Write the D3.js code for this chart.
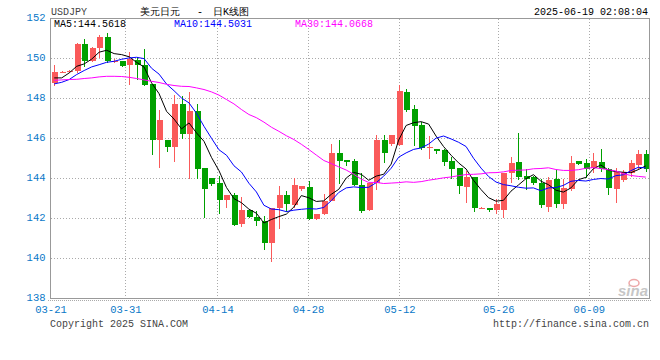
<!DOCTYPE html>
<html>
<head>
<meta charset="utf-8">
<script src="https://cdn.jsdelivr.net/npm/d3@7/dist/d3.min.js"></script>
<style>
  body { margin: 0; background: #fff; }
  text { font-family: "Liberation Mono", "DejaVu Sans Mono", monospace; font-size: 10px; }
</style>
</head>
<body>
<svg></svg>
<script>
// daily candles, oldest first
var opens = [148.78, 149.30, 149.31, 149.36, 150.72, 149.89, 150.53, 151.06, 149.86, 149.86,
  149.66, 149.94, 149.66, 148.73, 145.91, 145.94, 145.57, 147.73, 146.24, 147.40,
  144.51, 144.05, 143.76, 142.92, 143.20, 141.72, 142.45, 142.10, 141.89, 140.76,
  142.52, 143.17, 142.68, 143.50, 143.60, 142.00, 142.22, 142.88, 145.29, 144.93,
  144.88, 143.68, 142.42, 143.80, 145.92, 145.74, 145.67, 148.33, 147.50, 146.67,
  145.54, 145.46, 145.42, 144.88, 144.51, 143.60, 144.08, 142.50, 142.54, 142.45,
  142.42, 144.26, 144.84, 144.13, 144.10, 143.80, 142.60, 143.96, 142.72, 143.47,
  144.88, 144.80, 144.51, 144.84, 144.46, 143.47, 143.91, 144.30, 144.66, 145.24];
var highs = [149.69, 149.36, 149.42, 150.78, 150.99, 150.58, 151.16, 151.27, 150.00, 149.88,
  150.31, 150.06, 150.49, 148.73, 147.45, 145.94, 148.17, 148.12, 148.33, 147.73,
  144.51, 144.05, 144.13, 143.20, 143.30, 143.08, 142.45, 142.38, 142.14, 142.55,
  143.63, 143.38, 144.05, 143.63, 143.88, 142.25, 143.22, 145.74, 145.92, 144.93,
  144.96, 144.30, 143.80, 146.20, 146.17, 146.20, 148.70, 148.50, 147.67, 146.84,
  146.12, 145.49, 145.49, 145.08, 144.51, 144.38, 144.08, 142.56, 142.54, 142.97,
  144.30, 145.10, 146.29, 144.46, 144.13, 143.96, 144.10, 144.43, 143.96, 145.12,
  144.90, 144.96, 145.29, 145.49, 144.55, 144.55, 144.41, 144.91, 145.41, 145.41];
var lows = [148.61, 149.28, 149.29, 149.30, 149.56, 149.83, 150.03, 149.78, 149.80, 149.60,
  148.70, 148.95, 148.61, 145.18, 144.51, 145.31, 144.81, 145.96, 143.96, 143.96,
  142.02, 143.61, 142.22, 142.55, 141.64, 141.59, 142.05, 141.64, 140.43, 139.81,
  141.47, 142.35, 142.55, 143.38, 141.92, 141.92, 142.18, 142.88, 143.71, 144.63,
  143.63, 142.30, 142.39, 143.42, 144.80, 145.62, 145.62, 147.34, 145.62, 145.41,
  144.96, 145.21, 144.63, 143.96, 143.25, 142.77, 142.35, 142.50, 142.35, 142.22,
  142.05, 143.80, 143.93, 143.42, 143.70, 142.52, 142.35, 142.55, 142.50, 143.38,
  144.70, 144.01, 144.30, 144.33, 143.17, 142.77, 143.85, 144.08, 144.41, 144.35];
var closes = [149.33, 149.33, 149.38, 150.72, 149.89, 150.53, 151.06, 149.86, 149.88, 149.64,
  149.99, 149.66, 148.70, 145.91, 146.95, 145.57, 147.73, 146.24, 147.40, 144.46,
  143.47, 143.71, 142.92, 143.20, 141.67, 142.45, 142.10, 141.89, 140.76, 142.55,
  143.17, 142.72, 143.66, 143.63, 142.00, 142.25, 142.88, 145.29, 144.88, 144.83,
  143.66, 142.39, 143.80, 145.92, 145.29, 146.20, 148.40, 147.45, 146.62, 145.54,
  145.60, 145.38, 144.84, 144.46, 143.63, 144.08, 142.52, 142.54, 142.44, 142.75,
  144.30, 144.80, 144.10, 144.00, 143.76, 142.67, 143.93, 142.72, 143.52, 144.80,
  144.74, 144.50, 144.88, 144.46, 143.52, 144.35, 144.35, 144.76, 145.24, 144.46];

// moving averages at the left edge, where the earlier days are not shown
var ma5Head = [149.03, 149.03, 149.28, 149.61];
var ma10Head = [148.73, 148.81, 148.95, 149.20, 149.40, 149.58, 149.69, 149.81, 149.86];
var ma30Head = [148.91, 148.93, 148.95, 148.96, 149.00, 149.03, 149.08, 149.11, 149.11, 149.10,
  149.06, 149.00, 148.93, 148.86, 148.80, 148.71, 148.65, 148.61, 148.60, 148.53,
  148.45, 148.33, 148.17, 147.95, 147.73, 147.45, 147.20, 147.04, 146.82];

var yTicks = [138, 140, 142, 144, 146, 148, 150, 152];
var dateLabels = ['03-21', '03-31', '04-14', '04-28', '05-12', '05-26', '06-09'];
var dateIndex = [-0.5, 9.5, 21.8, 33.9, 46.1, 59.3, 71.4];

var legendText = ['MA5:144.5618', 'MA10:144.5031', 'MA30:144.0668'];

var width = 660;
var height = 360;
var plotLeft = 50.5, plotRight = 649.5, plotTop = 18.5, plotBottom = 298.5;

var svg = d3.select('svg');
svg.attr('width', width).attr('height', height);

var xScale = d3.scaleLinear()
               .domain([-0.5, closes.length - 0.5])
               .range([plotLeft, plotRight]);

var yScale = d3.scaleLinear()
               .domain([138, 152])
               .range([plotBottom, plotTop]);

var candles = closes.map(function(c, i) {
  return {i: i, o: opens[i], h: highs[i], l: lows[i], c: c};
});

function movingAverage(period, head) {
  return closes.map(function(c, i) {
    if (i < period - 1) return head[i];
    return d3.mean(closes.slice(i - period + 1, i + 1));
  });
}

// grid
svg.append('g')
  .selectAll('line')
  .data(yTicks.slice(1, -1))
  .enter()
  .append('line')
  .attr('x1', plotLeft).attr('x2', plotRight)
  .attr('y1', function(d) { return yScale(d); })
  .attr('y2', function(d) { return yScale(d); })
  .attr('stroke', '#aaa')
  .attr('stroke-dasharray', '1,2')
  .attr('shape-rendering', 'crispEdges');

svg.append('g')
  .selectAll('line')
  .data(dateIndex.slice(1))
  .enter()
  .append('line')
  .attr('x1', function(d) { return Math.round(xScale(d)) + 0.5; })
  .attr('x2', function(d) { return Math.round(xScale(d)) + 0.5; })
  .attr('y1', plotTop).attr('y2', plotBottom)
  .attr('stroke', '#aaa')
  .attr('stroke-dasharray', '1,2')
  .attr('shape-rendering', 'crispEdges');

// dotted line under the frame
svg.append('line')
  .attr('x1', plotLeft - 3).attr('x2', plotRight + 1)
  .attr('y1', plotBottom + 2).attr('y2', plotBottom + 2)
  .attr('stroke', '#aaa')
  .attr('stroke-dasharray', '1,1')
  .attr('shape-rendering', 'crispEdges');

// sina mark
var logo = svg.append('g').attr('opacity', 0.55);
logo.append('ellipse')
  .attr('cx', 634).attr('cy', 283).attr('rx', 5).attr('ry', 3.5)
  .attr('fill', 'none').attr('stroke', '#e06060').attr('stroke-width', 1.5);
logo.append('text')
  .attr('x', 633).attr('y', 296)
  .attr('text-anchor', 'middle')
  .style('font-family', '"Liberation Sans", Arial, sans-serif')
  .style('font-size', '15px')
  .style('font-style', 'italic')
  .style('font-weight', 'bold')
  .attr('fill', '#999')
  .text('sina');

// candles
var colorOf = function(d) { return d.c >= d.o ? '#fa5a5a' : '#00a000'; };

var candleG = svg.append('g').attr('shape-rendering', 'crispEdges');

candleG.selectAll('line')
  .data(candles)
  .enter()
  .append('line')
  .attr('x1', function(d) { return Math.round(xScale(d.i)) + 0.5; })
  .attr('x2', function(d) { return Math.round(xScale(d.i)) + 0.5; })
  .attr('y1', function(d) { return yScale(d.h); })
  .attr('y2', function(d) { return yScale(d.l); })
  .attr('stroke', colorOf);

candleG.selectAll('rect')
  .data(candles)
  .enter()
  .append('rect')
  .attr('x', function(d) { return Math.round(xScale(d.i)) - 2; })
  .attr('width', 6)
  .attr('y', function(d) { return yScale(Math.max(d.o, d.c)); })
  .attr('height', function(d) { return Math.max(1, Math.abs(yScale(d.o) - yScale(d.c))); })
  .attr('fill', colorOf);

// moving averages
var line = d3.line()
  .x(function(d, i) { return xScale(i); })
  .y(function(d) { return yScale(d); });

var maColors = ['#000', '#0000ff', '#ff00ff'];
[movingAverage(5, ma5Head), movingAverage(10, ma10Head), movingAverage(30, ma30Head)]
  .forEach(function(ma, k) {
    svg.append('path')
      .attr('d', line(ma))
      .attr('fill', 'none')
      .attr('stroke', maColors[k])
      .attr('stroke-width', 1);
  });

// frame
svg.append('path')
  .attr('d', 'M' + plotLeft + ',' + plotBottom + 'V' + plotTop + 'H' + plotRight + 'V' + plotBottom + 'Z')
  .attr('fill', 'none')
  .attr('stroke', '#999')
  .attr('shape-rendering', 'crispEdges');

// axes
var yAxis = d3.axisLeft(yScale).tickValues(yTicks).tickSize(0).tickPadding(4);
svg.append('g')
  .attr('transform', 'translate(' + (plotLeft - 1) + ',-1.5)')
  .call(yAxis)
  .call(function(g) { g.select('.domain').remove(); })
  .selectAll('text')
  .attr('fill', '#0a78c8')
  .style('font-family', '"Liberation Mono", monospace')
  .style('font-size', '10.5px');

var xAxis = d3.axisBottom(xScale)
  .tickValues(dateIndex)
  .tickSize(0)
  .tickPadding(7)
  .tickFormat(function(d, i) { return dateLabels[i]; });
svg.append('g')
  .attr('transform', 'translate(0,' + plotBottom + ')')
  .call(xAxis)
  .call(function(g) { g.select('.domain').remove(); })
  .selectAll('text')
  .attr('fill', '#0a78c8')
  .style('font-family', '"Liberation Mono", monospace')
  .style('font-size', '10.5px');

// legend
svg.selectAll('.legend')
  .data(legendText)
  .enter()
  .append('text')
  .attr('class', 'legend')
  .attr('x', function(d, i) { return [54, 174, 295][i]; })
  .attr('y', 27)
  .attr('fill', function(d, i) { return maColors[i]; })
  .text(function(d) { return d; });

// header and footer
svg.append('text').attr('x', 51).attr('y', 15).attr('fill', '#444').text('USDJPY');
var title = svg.append('g')
  .style('font-family', '"Noto Sans CJK SC", sans-serif')
  .style('font-size', '12px')
  .attr('fill', '#000');
title.append('text').attr('x', 140).attr('y', 15).text('美元日元');
title.append('text').attr('x', 200).attr('y', 15).attr('text-anchor', 'middle').text('-');
title.append('text').attr('x', 213).attr('y', 15).text('日K线图');
svg.append('text').attr('x', 648).attr('y', 15).attr('text-anchor', 'end').attr('fill', '#000').text('2025-06-19 02:08:04');
svg.append('text').attr('x', 50).attr('y', 327).attr('fill', '#444').text('Copyright 2025 SINA.COM');
svg.append('text').attr('x', 649).attr('y', 327).attr('text-anchor', 'end').attr('fill', '#444').text('http://finance.sina.com.cn');
</script>
</body>
</html>
